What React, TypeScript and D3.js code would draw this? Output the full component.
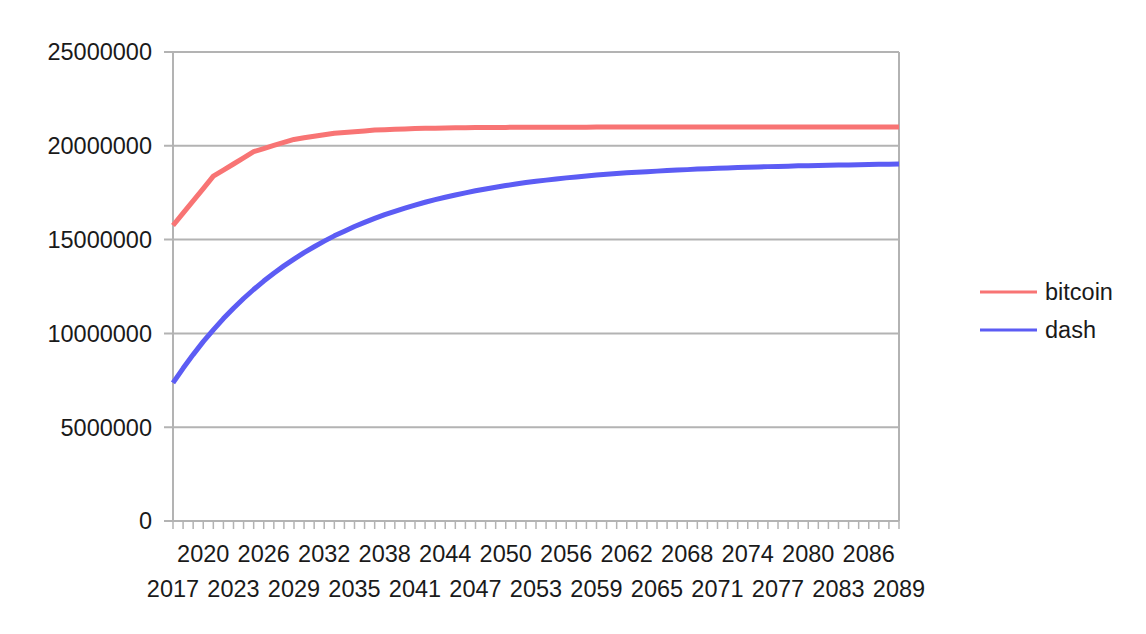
import React, { useRef, useEffect } from 'react';
import * as d3 from 'd3';

// years 2017..2089
const years: number[] = d3.range(2017, 2090);

// circulating supply (millions of coins)
const bitcoin: number[] = [
  15.75, 16.41, 17.06, 17.72, 18.38, 18.70, 19.03, 19.36, 19.69, 19.85,
  20.02, 20.18, 20.34, 20.43, 20.51, 20.59, 20.67, 20.71, 20.75, 20.79,
  20.84, 20.86, 20.88, 20.90, 20.92, 20.93, 20.94, 20.95, 20.96, 20.964,
  20.969, 20.974, 20.979, 20.982, 20.985, 20.987, 20.990, 20.991, 20.992, 20.993,
  20.995, 20.995, 20.996, 20.996, 20.997, 20.997, 20.998, 20.998, 20.998, 20.999,
  20.999, 20.999, 20.999, 20.999, 20.999, 21.0, 21.0, 21.0, 21.0, 21.0,
  21.0, 21.0, 21.0, 21.0, 21.0, 21.0, 21.0, 21.0, 21.0, 21.0,
  21.0, 21.0, 21.0,
];

const dash: number[] = [
  7.36, 8.14, 8.87, 9.56, 10.19, 10.79, 11.34, 11.86, 12.34, 12.79,
  13.21, 13.60, 13.96, 14.31, 14.62, 14.92, 15.20, 15.45, 15.70, 15.92,
  16.13, 16.33, 16.51, 16.68, 16.84, 16.99, 17.13, 17.26, 17.38, 17.49,
  17.60, 17.70, 17.79, 17.88, 17.96, 18.04, 18.11, 18.17, 18.23, 18.29,
  18.34, 18.39, 18.44, 18.48, 18.52, 18.56, 18.59, 18.62, 18.65, 18.68,
  18.71, 18.73, 18.76, 18.78, 18.80, 18.82, 18.84, 18.86, 18.87, 18.89,
  18.90, 18.91, 18.93, 18.94, 18.95, 18.96, 18.97, 18.98, 18.99, 19.00,
  19.01, 19.02, 19.03,
];

const yTicks: number[] = [0, 5000000, 10000000, 15000000, 20000000, 25000000];

const seriesNames = ['bitcoin', 'dash'];
const seriesColors = ['#f87474', '#5c5cf4'];

const W = 1146;
const H = 634;

const App: React.FC = () => {
  const svgRef = useRef<SVGSVGElement | null>(null);

  useEffect(() => {
    if (!svgRef.current) return;
    const svg = d3.select(svgRef.current);
    svg.selectAll('*').remove();

    const left = 173;
    const right = 899;
    const top = 52;
    const bottom = 521;
    const grid = '#b3b3b3';
    const font = 'Arial, "Liberation Sans", sans-serif';
    const fs = 23.5;
    const ink = '#1a1a1a';

    const x = d3.scaleLinear().domain([0, years.length - 1]).range([left, right]);
    const y = d3.scaleLinear().domain([0, 25000000]).range([bottom, top]);

    svg.append('rect').attr('width', W).attr('height', H).attr('fill', '#fff');

    // gridlines + y ticks
    yTicks.forEach(t => {
      svg.append('line')
        .attr('x1', left - 9).attr('x2', right)
        .attr('y1', y(t)).attr('y2', y(t))
        .attr('stroke', grid).attr('stroke-width', 2);
      svg.append('text')
        .attr('x', 152).attr('y', y(t))
        .attr('dy', '0.36em')
        .attr('text-anchor', 'end')
        .attr('font-family', font).attr('font-size', fs)
        .attr('fill', ink)
        .text(String(t));
    });

    // axes frame
    svg.append('line')
      .attr('x1', left).attr('x2', left).attr('y1', top).attr('y2', bottom)
      .attr('stroke', grid).attr('stroke-width', 2);
    svg.append('line')
      .attr('x1', right).attr('x2', right).attr('y1', top).attr('y2', bottom)
      .attr('stroke', grid).attr('stroke-width', 2);

    // category ticks
    years.forEach((yr, i) => {
      svg.append('line')
        .attr('x1', x(i)).attr('x2', x(i))
        .attr('y1', bottom).attr('y2', bottom + 8)
        .attr('stroke', grid).attr('stroke-width', 1.5);
      if (i % 3 === 0) {
        const row = (i / 3) % 2 === 0 ? 1 : 0;
        svg.append('text')
          .attr('x', x(i)).attr('y', 554 + row * 35)
          .attr('dy', '0.36em')
          .attr('text-anchor', 'middle')
          .attr('font-family', font).attr('font-size', fs)
          .attr('fill', ink)
          .text(String(yr));
      }
    });

    const line = d3.line<number>()
      .x((_, i) => x(i))
      .y(d => y(d * 1000000));

    [bitcoin, dash].forEach((s, k) => {
      svg.append('path')
        .datum(s)
        .attr('d', line)
        .attr('fill', 'none')
        .attr('stroke', seriesColors[k])
        .attr('stroke-width', 5)
        .attr('stroke-linejoin', 'round');
    });

    // legend
    seriesNames.forEach((name, k) => {
      const ly = 292 + k * 38;
      svg.append('line')
        .attr('x1', 980).attr('x2', 1037)
        .attr('y1', ly).attr('y2', ly)
        .attr('stroke', seriesColors[k]).attr('stroke-width', 3);
      svg.append('text')
        .attr('x', 1045).attr('y', ly)
        .attr('dy', '0.36em')
        .attr('font-family', font).attr('font-size', fs)
        .attr('fill', ink)
        .text(name);
    });
  }, []);

  return (
    <svg
      ref={svgRef}
      width={W}
      height={H}
      style={{ position: 'absolute', left: 0, top: 0 }}
    />
  );
};

export default App;
